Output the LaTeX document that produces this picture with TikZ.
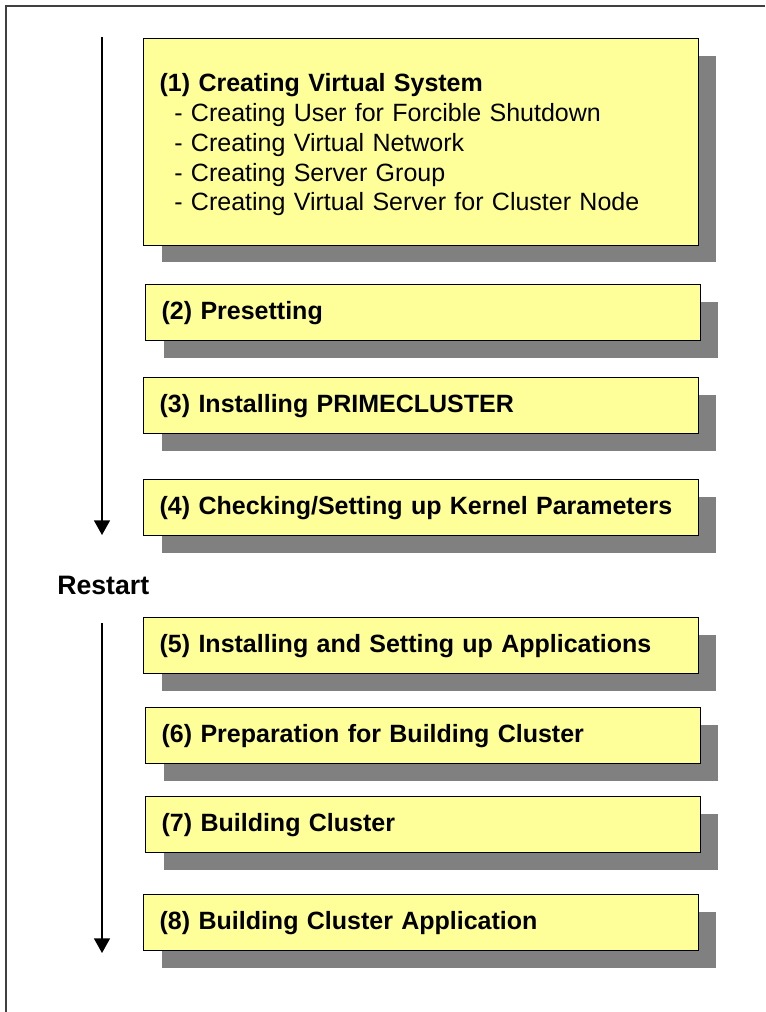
\documentclass[tikz,border=0pt]{standalone}
\usepackage{fontspec}
\setmainfont{Liberation Sans}
\usetikzlibrary{arrows.meta,shadows}
\definecolor{boxfill}{HTML}{FFFF99}
\definecolor{boxshade}{HTML}{808080}
\definecolor{framegray}{HTML}{404040}

\begin{document}
\begin{tikzpicture}[x=0.75pt, y=-0.75pt,
  stepbox/.style={rectangle, draw=black, line width=1pt, fill=boxfill,
    anchor=north west, minimum height=42pt, text width=392pt,
    inner xsep=12pt, align=left,
    font=\fontsize{18.75}{22.3}\selectfont\bfseries,
    drop shadow={shadow xshift=13.5pt, shadow yshift=-12.75pt,
                 fill=boxshade, opacity=1}},
  flow/.style={-{Triangle[width=12pt,length=11pt]}, line width=1.1pt}
]
  \useasboundingbox (0,0) rectangle (765,1012);

  % Rahmen
  \draw[framegray, line width=1.1pt] (6,1012) -- (6,6) -- (765,6);

  % Schritt 1
  \node[stepbox, minimum height=155pt] (s1) at (143,38) {\rule{0pt}{18pt}(1) Creating Virtual System\\
    \mdseries\hspace*{11pt}- Creating User for Forcible Shutdown\\
    \hspace*{11pt}- Creating Virtual Network\\
    \hspace*{11pt}- Creating Server Group\\
    \hspace*{11pt}- Creating Virtual Server for Cluster Node};

  % Schritte 2 bis 8
  \foreach \i/\x/\y/\t in {2/145/284/{Presetting},
      3/143/377/{Installing PRIMECLUSTER},
      4/143/479/{Checking/Setting up Kernel Parameters},
      5/143/617/{Installing and Setting up Applications},
      6/145/707/{Preparation for Building Cluster},
      7/145/796/{Building Cluster},
      8/143/894/{Building Cluster Application}} {
    \node[stepbox] (s\i) at (\x,\y) {(\i) \t};
  }

  % Ablauf
  \coordinate (a1) at (102,37);
  \coordinate (b1) at (102,535);
  \draw[flow] (a1) -- (b1);
  \node[anchor=west, inner xsep=0pt, font=\fontsize{20}{24}\selectfont\bfseries] (restart) at (57,585) {Restart};
  \coordinate (a2) at (102,623);
  \coordinate (b2) at (102,953);
  \draw[flow] (a2) -- (b2);
\end{tikzpicture}
\end{document}
